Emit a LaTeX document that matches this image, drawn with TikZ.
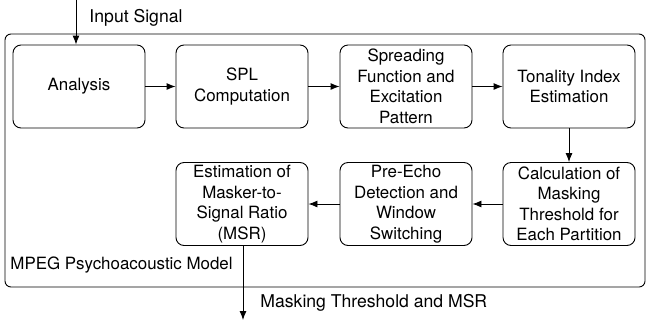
\documentclass[tikz,border=0pt]{standalone}
\usepackage{fontspec}
\setmainfont{TeX Gyre Heros}
\usetikzlibrary{arrows.meta}

\tikzset{
  block/.style={draw, rounded corners=8pt, minimum width=132pt, minimum height=83pt,
    inner sep=0pt, align=center, font=\fontsize{16.9}{20.5}\selectfont},
  lbl/.style={inner sep=0pt, anchor=west, font=\fontsize{17.6}{20.5}\selectfont}
}

\begin{document}
\begin{tikzpicture}[x=1pt, y=-1pt, line width=0.9pt, >={Latex[length=9pt,width=7pt]}]
        \useasboundingbox (0,0) rectangle (647,322);

        % outer model frame
        \draw[rounded corners=6pt] (5,34) rectangle (645,287);
        \node[lbl, font=\fontsize{16.9}{20.5}\selectfont] (model) at (10,265) {MPEG Psychoacoustic Model};

        % first row
        \node[block] (ana) at (79,86.5) {Analysis};
        \node[block] (spl) at (242,86.5) {SPL\\Computation};
        \node[block] (spread) at (406,86.5) {Spreading\\Function and\\Excitation\\Pattern};
        \node[block] (tonal) at (569,86.5) {Tonality Index\\Estimation};

        % second row
        \node[block] (calc) at (569,204) {Calculation of\\Masking\\Threshold for\\Each Partition};
        \node[block] (echo) at (406,204) {Pre-Echo\\Detection and\\Window\\Switching};
        \node[block] (msr) at (242,204) {Estimation of\\Masker-to-\\Signal Ratio\\(MSR)};

        % input and output
        \coordinate (in) at (76,0);
        \coordinate (out) at (243,320);
        \node[lbl] (inlbl) at (89,18) {Input Signal};
        \node[lbl] (outlbl) at (260,303) {Masking Threshold and MSR};

        \draw[->] (in) -- (in |- ana.north);
        \draw[->] (ana) -- (spl);
        \draw[->] (spl) -- (spread);
        \draw[->] (spread) -- (tonal);
        \draw[->] (tonal) -- (calc);
        \draw[->] (calc) -- (echo);
        \draw[->] (echo) -- (msr);
        \draw[->] (msr.south -| out) -- (out);
\end{tikzpicture}
\end{document}
